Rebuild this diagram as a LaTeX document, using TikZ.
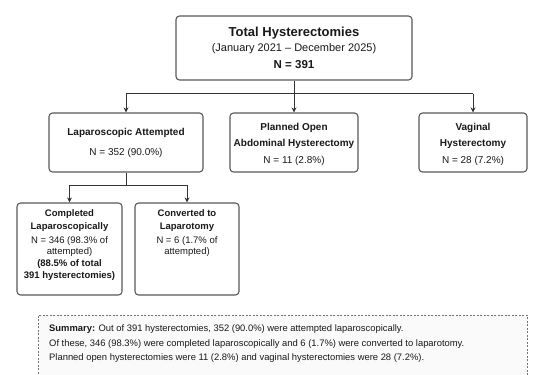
\documentclass[tikz,border=0pt]{standalone}
\usepackage{fontspec}
\setmainfont{Liberation Sans}
\usetikzlibrary{arrows.meta}
\begin{document}
\begin{tikzpicture}[x=1pt,y=-1pt,
  box/.style={draw=black!65, line width=1.1pt, rounded corners=3.5pt, fill=white, inner sep=0pt},
  txt/.style={inner sep=0pt, anchor=base, text=black!90},
  fa/.style={font=\fontsize{10}{12}\selectfont},
  fab/.style={font=\fontsize{10}{12}\selectfont\bfseries},
  fb/.style={font=\fontsize{9.5}{11}\selectfont},
  fbb/.style={font=\fontsize{9.5}{11}\selectfont\bfseries},
  fs/.style={font=\fontsize{9.4}{11}\selectfont},
  conn/.style={draw=black!80, line width=1pt},
  arr/.style={conn, -{Stealth[length=5pt,width=5pt]}},
  sumbox/.style={draw=black!55, line width=0.6pt, dash pattern=on 2pt off 1.5pt, fill=black!2, inner sep=0pt}
]
\useasboundingbox (0,0) rectangle (534,374);
\clip (0,0) rectangle (534,374);

% top box
\node[box, minimum width=236pt, minimum height=64pt] (top) at (294,48) {};
\node[txt, font=\fontsize{13}{15}\selectfont\bfseries] (t1) at (294,36.5) {Total Hysterectomies};
\node[txt, font=\fontsize{11}{13}\selectfont] (t2) at (294,52) {(January 2021 – December 2025)};
\node[txt, font=\fontsize{11.5}{13}\selectfont\bfseries] (t3) at (294,69) {N = 391};

% second level
\node[box, minimum width=154pt, minimum height=59pt] (lap) at (126,142.5) {};
\node[txt, fab] (l1) at (126,135.5) {Laparoscopic Attempted};
\node[txt, fa] (l2) at (126,155.5) {N = 352 (90.0\%)};

\node[box, minimum width=128pt, minimum height=59pt] (open) at (294,142.5) {};
\node[txt, fab] (o1) at (294,130.5) {Planned Open};
\node[txt, fab] (o2) at (294,146.5) {Abdominal Hysterectomy};
\node[txt, fa] (o3) at (294,163.5) {N = 11 (2.8\%)};

\node[box, minimum width=108pt, minimum height=59pt] (vag) at (473,142.5) {};
\node[txt, fab] (v1) at (473,130.5) {Vaginal};
\node[txt, fab] (v2) at (473,146.5) {Hysterectomy};
\node[txt, fa] (v3) at (473,163.5) {N = 28 (7.2\%)};

% third level
\node[box, minimum width=105pt, minimum height=92pt] (comp) at (69.5,249) {};
\node[txt, fbb] (c1) at (69.5,216) {Completed};
\node[txt, fbb] (c2) at (69.5,229) {Laparoscopically};
\node[txt, fb] (c3) at (69.5,243) {N = 346 (98.3\% of};
\node[txt, fb] (c4) at (69.5,254) {attempted)};
\node[txt, fbb] (c5) at (69.5,266) {(88.5\% of total};
\node[txt, fbb] (c6) at (69.5,278) {391 hysterectomies)};

\node[box, minimum width=104pt, minimum height=92pt] (conv) at (187,249) {};
\node[txt, fbb] (k1) at (187,216) {Converted to};
\node[txt, fbb] (k2) at (187,229) {Laparotomy};
\node[txt, fb] (k3) at (187,243) {N = 6 (1.7\% of};
\node[txt, fb] (k4) at (187,254) {attempted)};

% connectors
\coordinate (bus) at (294,94);
\draw[conn] (top.south) -- (bus);
\draw[conn] (bus -| lap.north) -- (bus -| vag.north);
\draw[arr] (bus -| lap.north) -- (lap.north);
\draw[arr] (bus) -- (open.north);
\draw[arr] (bus -| vag.north) -- (vag.north);

\coordinate (bus2) at (126,185);
\draw[conn] (lap.south) -- (bus2);
\draw[conn] (bus2 -| comp.north) -- (bus2 -| conv.north);
\draw[arr] (bus2 -| comp.north) -- (comp.north);
\draw[arr] (bus2 -| conv.north) -- (conv.north);

% summary
\node[sumbox, minimum width=489pt, minimum height=75pt, anchor=north west] (sum) at (38,315) {};
\node[txt, fs, anchor=base west] (s1) at (49,331) {\textbf{Summary:} Out of 391 hysterectomies, 352 (90.0\%) were attempted laparoscopically.};
\node[txt, fs, anchor=base west] (s2) at (49,346) {Of these, 346 (98.3\%) were completed laparoscopically and 6 (1.7\%) were converted to laparotomy.};
\node[txt, fs, anchor=base west] (s3) at (49,360) {Planned open hysterectomies were 11 (2.8\%) and vaginal hysterectomies were 28 (7.2\%).};
\end{tikzpicture}
\end{document}
